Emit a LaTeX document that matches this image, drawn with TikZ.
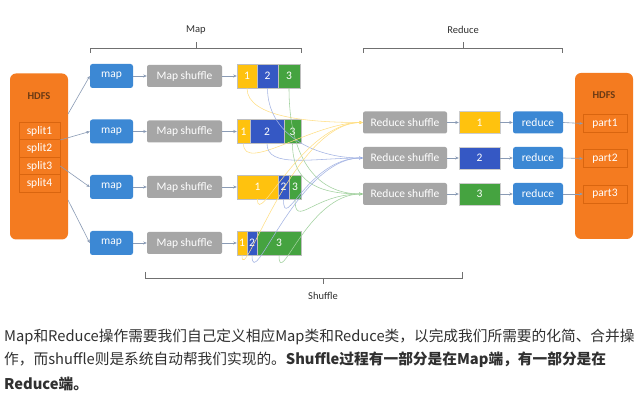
\documentclass[tikz,border=0pt]{standalone}
\usepackage{fontspec}
\setmainfont{Carlito}
\newfontfamily\cjk{Noto Sans CJK SC}
\usetikzlibrary{arrows.meta}
\definecolor{hdfsorange}{HTML}{F47B20}
\definecolor{hdfsedge}{HTML}{D9650F}
\definecolor{hdfstext}{HTML}{6A3A14}
\definecolor{mapblue}{HTML}{3C88D4}
\definecolor{boxgray}{HTML}{A6A6A6}
\definecolor{pyellow}{HTML}{FFC20E}
\definecolor{pblue}{HTML}{3558C4}
\definecolor{pgreen}{HTML}{45A340}
\definecolor{linkgray}{HTML}{8A9BB5}
\definecolor{bracegray}{HTML}{707070}
\definecolor{txt}{HTML}{303030}
\begin{document}
\begin{tikzpicture}[x=1pt,y=-1pt,
  lbl/.style={text=white,font=\fontsize{11.5}{13}\selectfont,inner sep=0pt},
  hdfslbl/.style={text=hdfstext,font=\bfseries\fontsize{10.5}{12}\selectfont,inner sep=0pt},
  hdfsbox/.style={fill=hdfsorange,rounded corners=6pt,minimum width=58pt,minimum height=166pt,inner sep=0pt},
  splitbox/.style={lbl,draw=hdfsedge,line width=0.5pt,minimum width=41pt,minimum height=17.5pt},
  partbox/.style={lbl,draw=hdfsedge,line width=0.5pt,minimum width=44pt,minimum height=18pt},
  mapbox/.style={lbl,fill=mapblue,rounded corners=2.5pt,minimum width=43pt,minimum height=24pt},
  msbox/.style={lbl,fill=boxgray,rounded corners=2pt,minimum width=75pt,minimum height=22pt},
  rsbox/.style={lbl,fill=boxgray,rounded corners=2pt,minimum width=84pt,minimum height=22pt},
  redbox/.style={lbl,fill=mapblue,rounded corners=2.5pt,minimum width=50pt,minimum height=22pt},
  pcell/.style={lbl,draw=black!25,line width=0.4pt,minimum height=24pt},
  rcell/.style={lbl,draw=black!20,line width=0.4pt,minimum width=41pt,minimum height=22pt},
  link/.style={draw=linkgray,line width=0.6pt,-{Stealth[length=3.5pt,width=3pt]}},
  sh1/.style={draw=pyellow!50,line width=0.55pt,-{Stealth[length=3.5pt,width=3pt,fill=pyellow]}},
  sh2/.style={draw=pblue!45,line width=0.55pt,-{Stealth[length=3.5pt,width=3pt,fill=pblue]}},
  sh3/.style={draw=pgreen!50,line width=0.55pt,-{Stealth[length=3.5pt,width=3pt,fill=pgreen]}},
  bracestyle/.style={draw=bracegray,line width=0.6pt},
  bracelbl/.style={text=txt,font=\fontsize{10.5}{12}\selectfont,inner sep=0pt},
  para/.style={text=txt,font=\cjk\fontsize{14.7}{17}\selectfont,inner sep=0pt,anchor=west}
]
\useasboundingbox[fill=white] (0,0) rectangle (637,411);

% left HDFS
\node[hdfsbox] (hdfsL) at (39,156.5) {};
\node[hdfslbl] (hdfsLt) at (39,96) {HDFS};
\node[splitbox] (s1) at (39.5,131) {split1};
\node[splitbox] (s2) at (39.5,148.5) {split2};
\node[splitbox] (s3) at (39.5,166) {split3};
\node[splitbox] (s4) at (39.5,183.5) {split4};

% map rows
\foreach \r/\y in {1/76,2/131.5,3/187,4/243}{
  \node[mapbox] (m\r) at (111.5,\y) {map};
  \node[msbox] (ms\r) at (184.5,\y) {Map shuffle};
}
% partitions
\node[pcell,fill=pyellow,minimum width=20pt] (p11) at (247,76) {1};
\node[pcell,fill=pblue,minimum width=21pt] (p12) at (267.5,76) {2};
\node[pcell,fill=pgreen,minimum width=22pt] (p13) at (289,76) {3};
\node[pcell,fill=pyellow,minimum width=13pt] (p21) at (243.5,131.5) {1};
\node[pcell,fill=pblue,minimum width=34pt] (p22) at (267,131.5) {2};
\node[pcell,fill=pgreen,minimum width=17pt] (p23) at (292.5,131.5) {3};
\node[pcell,fill=pyellow,minimum width=41pt] (p31) at (257.5,187) {1};
\node[pcell,fill=pblue,minimum width=11pt] (p32) at (283.5,187) {2};
\node[pcell,fill=pgreen,minimum width=12pt] (p33) at (295,187) {3};
\node[pcell,fill=pyellow,minimum width=10pt] (p41) at (242,243) {1};
\node[pcell,fill=pblue,minimum width=10pt] (p42) at (252,243) {2};
\node[pcell,fill=pgreen,minimum width=44pt] (p43) at (279,243) {3};

% reduce side
\node[rsbox] (rs1) at (405,122.5) {Reduce shuffle};
\node[rsbox] (rs2) at (405,158) {Reduce shuffle};
\node[rsbox] (rs3) at (405,194) {Reduce shuffle};
\node[rcell,fill=pyellow] (r1) at (479.5,122.5) {1};
\node[rcell,fill=pblue] (r2) at (479.5,158) {2};
\node[rcell,fill=pgreen] (r3) at (479.5,194) {3};
\node[redbox] (red1) at (538,122.5) {reduce};
\node[redbox] (red2) at (538,158) {reduce};
\node[redbox] (red3) at (538,194) {reduce};

% right HDFS
\node[hdfsbox] (hdfsR) at (604,156) {};
\node[hdfslbl] (hdfsRt) at (604,95) {HDFS};
\node[partbox] (pt1) at (605,123.5) {part1};
\node[partbox] (pt2) at (605,158.5) {part2};
\node[partbox] (pt3) at (605,194) {part3};

% links HDFS -> map
\coordinate (l1) at (68,114);
\coordinate (l4) at (68,200);
\draw[link] (l1) -- (m1.west);
\draw[link] (s1.south east) -- (m2.west);
\draw[link] (s3.east) -- (m3.west);
\draw[link] (l4) -- (m4.west);
% map -> map shuffle -> partitions
\foreach \r in {1,2,3,4}{
  \draw[link] (m\r.east) -- (ms\r.west);
  \draw[link] (ms\r.east) -- (p\r1.west);
}
% reduce chain
\foreach \i in {1,2,3}{
  \draw[link] (rs\i.east) -- (r\i.west);
  \draw[link] (r\i.east) -- (red\i.west);
  \draw[link] (red\i.east) -- (pt\i.west);
}

% shuffle curves
\draw[sh1] (p11.south) .. controls +(0,30) and +(-50,0) .. (rs1.west);
\draw[sh2] (p12.south) .. controls +(0,45) and +(-50,0) .. (rs2.west);
\draw[sh3] (p13.south) .. controls +(0,65) and +(-50,0) .. (rs3.west);
\draw[sh1] (p21.south) .. controls +(0,30) and +(-50,0) .. (rs1.west);
\draw[sh2] (p22.south) .. controls +(0,25) and +(-50,0) .. (rs2.west);
\draw[sh3] (p23.south) .. controls +(0,35) and +(-50,0) .. (rs3.west);
\draw[sh1] (p31.south) .. controls +(0,30) and +(-60,0) .. (rs1.west);
\draw[sh2] (p32.south) .. controls +(0,35) and +(-55,0) .. (rs2.west);
\draw[sh3] (p33.south) .. controls +(0,30) and +(-50,0) .. (rs3.west);
\draw[sh1] (p41.south) .. controls +(0,35) and +(-70,0) .. (rs1.west);
\draw[sh2] (p42.south) .. controls +(0,40) and +(-65,0) .. (rs2.west);
\draw[sh3] (p43.south) .. controls +(0,35) and +(-55,0) .. (rs3.west);

% braces
\draw[bracestyle] (90,53) -- (90,48) -- (301,48) -- (301,53);
\draw[bracestyle] (196,48) -- (196,42);
\node[bracelbl] (mapl) at (196,30) {Map};
\draw[bracestyle] (363,53) -- (363,48) -- (562,48) -- (562,53);
\draw[bracestyle] (463,48) -- (463,42);
\node[bracelbl] (redl) at (463,30) {Reduce};
\draw[bracestyle] (145,272) -- (145,278) -- (462,278) -- (462,272);
\draw[bracestyle] (323,278) -- (323,284);
\node[bracelbl] (shl) at (323,296) {Shuffle};

% paragraph
\node[para] (t1) at (4,337) {Map和Reduce操作需要我们自己定义相应Map类和Reduce类，以完成我们所需要的化简、合并操};
\node[para] (t2) at (4,360) {作，而shuffle则是系统自动帮我们实现的。\bfseries Shuffle过程有一部分是在Map端，有一部分是在};
\node[para] (t3) at (4,384) {\bfseries Reduce端。};
\end{tikzpicture}
\end{document}
